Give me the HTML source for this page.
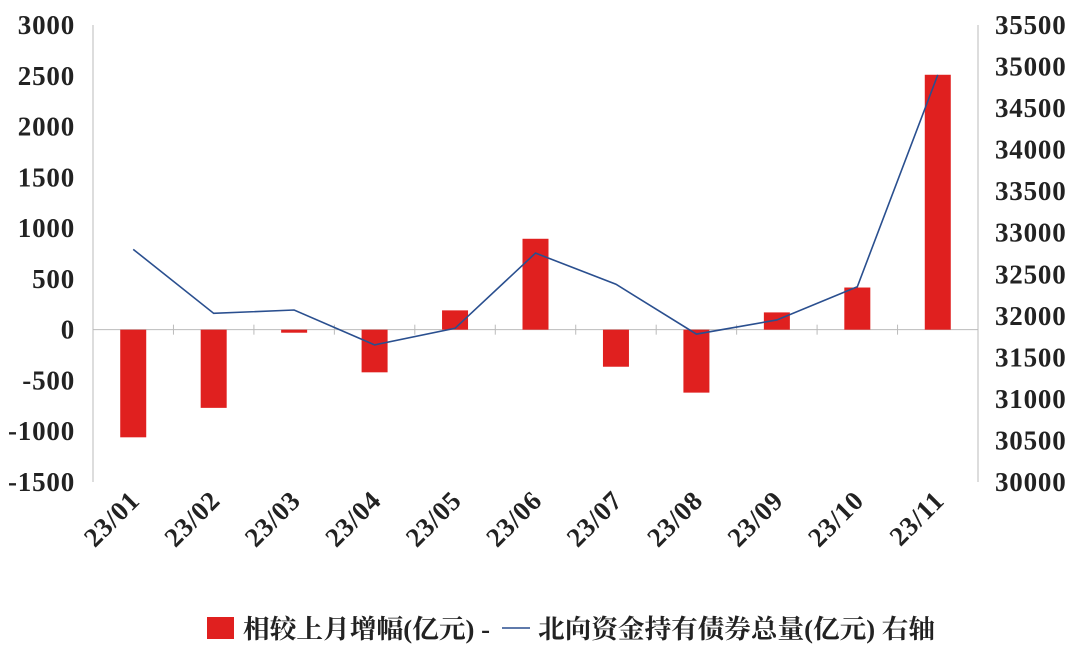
<!DOCTYPE html>
<html><head><meta charset="utf-8">
<style>
html,body{margin:0;padding:0;background:#fff;}
svg text{font-family:"Liberation Serif","Noto Serif CJK SC",serif;font-weight:bold;fill:#222;}
</style></head>
<body>
<svg width="1080" height="645" viewBox="0 0 1080 645" id="chart">
</svg>
<script>
const categories=["23/01","23/02","23/03","23/04","23/05","23/06","23/07","23/08","23/09","23/10","23/11"];
const barValues=[-1060,-770,-30,-420,190,895,-365,-620,170,415,2510];
const lineValues=[32800,32030,32070,31650,31850,32755,32380,31780,31950,32350,34900];
const leftTicks=[3000,2500,2000,1500,1000,500,0,-500,-1000,-1500];
const rightTicks=[35500,35000,34500,34000,33500,33000,32500,32000,31500,31000,30500,30000];

const svg=document.getElementById('chart');
const NS="http://www.w3.org/2000/svg";
const X0=93,X1=978,Y0=25,Y1=482;
const yL=v=>Y1-(v-(-1500))/4500*(Y1-Y0);
const yR=v=>Y1-(v-30000)/5500*(Y1-Y0);
const bw=(X1-X0)/categories.length;
const xc=i=>X0+bw*(i+0.5);
function mk(t,a,txt){const e=document.createElementNS(NS,t);for(const k in a)e.setAttribute(k,a[k]);if(txt!==undefined)e.textContent=txt;svg.appendChild(e);return e;}

let e;
e=mk('line',{x1:X0,y1:Y0,x2:X0,y2:Y1,stroke:'#bbb','stroke-width':1});


e=mk('line',{x1:X1,y1:Y0,x2:X1,y2:Y1,stroke:'#bbb','stroke-width':1});


e=mk('line',{x1:X0,y1:yL(0),x2:X1,y2:yL(0),stroke:'#bbb','stroke-width':1});


for(let i=0;i<=categories.length;i++){
  e=mk('line',{x1:X0+bw*i,y1:yL(0)-5,x2:X0+bw*i,y2:yL(0)+5,stroke:'#bbb','stroke-width':1});
  
  
}
leftTicks.forEach(v=>{
  e=mk('text',{x:X0-18,y:yL(v)+9,'text-anchor':'end','font-size':27,'letter-spacing':0.8},String(v));
  
  
});
rightTicks.forEach(v=>{
  e=mk('text',{x:X1+17,y:yR(v)+9,'text-anchor':'start','font-size':27,'letter-spacing':0.8},String(v));
  
  
});
barValues.forEach((v,i)=>{
  const y=Math.min(yL(v),yL(0)),h=Math.max(Math.abs(yL(v)-yL(0)),2);
  e=mk('rect',{x:xc(i)-13,y:y,width:26,height:h,fill:'#e0201f'});
  
  
});
e=mk('polyline',{points:lineValues.map((v,i)=>xc(i)+','+yR(v)).join(' '),fill:'none',stroke:'#2a4f8f','stroke-width':1.6});


categories.forEach((c,i)=>{
  e=mk('text',{x:xc(i)+8,y:502,'text-anchor':'end','font-size':27,'letter-spacing':0.8,transform:`rotate(-45 ${xc(i)+8} 502)`},c);
  
  
});
e=mk('rect',{x:207,y:617,width:27,height:22,fill:'#e0201f'});


e=mk('text',{x:243,y:638,'font-size':26,textLength:247,lengthAdjust:'spacingAndGlyphs'},'相较上月增幅(亿元) -');


e=mk('line',{x1:502,y1:628,x2:530,y2:628,stroke:'#2a4f8f','stroke-width':1.6});


e=mk('text',{x:538,y:638,'font-size':26,textLength:397,lengthAdjust:'spacingAndGlyphs'},'北向资金持有债券总量(亿元)  右轴');


</script>
</body></html>
